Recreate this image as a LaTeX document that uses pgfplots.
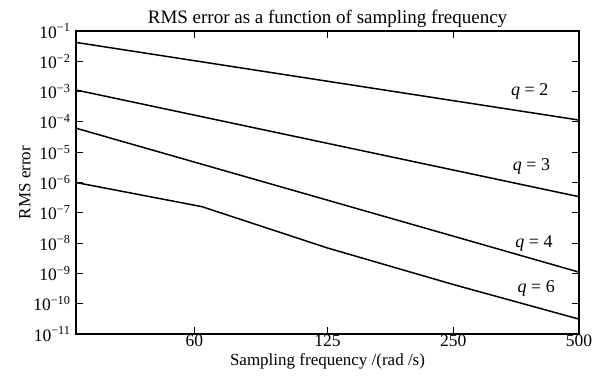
\documentclass[border=0pt]{standalone}
\usepackage{fontspec}
\setmainfont{Liberation Serif}
\usepackage{pgfplots}
\pgfplotsset{compat=1.18}
\usetikzlibrary{calc}
\begin{document}
\begin{tikzpicture}
\begin{axis}[
  scale only axis,
  width=503bp, height=303bp,
  xmode=log, ymode=log, log basis y=10,
  xmin=31.25, xmax=500, ymin=1e-11, ymax=1e-1,
  xtick={60,125,250,500}, xticklabels={60,125,250,500},
  xminorticks=false,
  ytick={1e-11,1e-10,1e-9,1e-8,1e-7,1e-6,1e-5,1e-4,1e-3,1e-2,1e-1},
  yticklabel={10\textsuperscript{\pgfmathtruncatemacro\e{\tick}\ifnum\e<0 −\number-\e\else\e\fi}},
  tick align=inside,
  major tick length=7bp, minor tick length=3.5bp,
  tick style={black, line width=1bp},
  minor tick style={black, line width=0.5bp},
  axis line style={line width=1.8bp},
  ticklabel style={font=\fontsize{17.5bp}{19bp}\selectfont},
  xticklabel style={yshift=3bp},
  yticklabel style={xshift=-2bp},
  title={RMS error as a function of sampling frequency},
  title style={font=\fontsize{19bp}{21bp}\selectfont, yshift=-6bp},
  xlabel={Sampling frequency /(rad /s)},
  ylabel={RMS error},
  label style={font=\fontsize{17bp}{19bp}\selectfont},
  xlabel style={yshift=0bp},
  ylabel style={yshift=-4bp},
  xtick pos=both, ytick pos=both,
  clip=false,
]
\addplot[black, line width=1.5bp] coordinates {(31.25,4.2e-2) (500,1.15e-4)};
\addplot[black, line width=1.5bp] coordinates {(31.25,1.13e-3) (500,3.4e-7)};
\addplot[black, line width=1.5bp] coordinates {(31.25,6.2e-5) (500,1.1e-9)};
\addplot[black, line width=1.5bp] coordinates {(31.25,1e-6) (62.5,1.6e-7) (125,6.9e-9) (250,4.3e-10) (500,3.1e-11)};
\node[font=\fontsize{18bp}{20bp}\selectfont] at (axis cs:381,1e-3) {\textit{q} = 2};
\node[font=\fontsize{18bp}{20bp}\selectfont] at (axis cs:385,3.5e-6) {\textit{q} = 3};
\node[font=\fontsize{18bp}{20bp}\selectfont] at (axis cs:390,1e-8) {\textit{q} = 4};
\node[font=\fontsize{18bp}{20bp}\selectfont] at (axis cs:395,3.3e-10) {\textit{q} = 6};
\coordinate (sw) at (rel axis cs:0,0);
\coordinate (ne) at (rel axis cs:1,1);
\end{axis}
\useasboundingbox ($(sw)+(-76bp,-43bp)$) rectangle ($(ne)+(17bp,31bp)$);
\end{tikzpicture}
\end{document}
